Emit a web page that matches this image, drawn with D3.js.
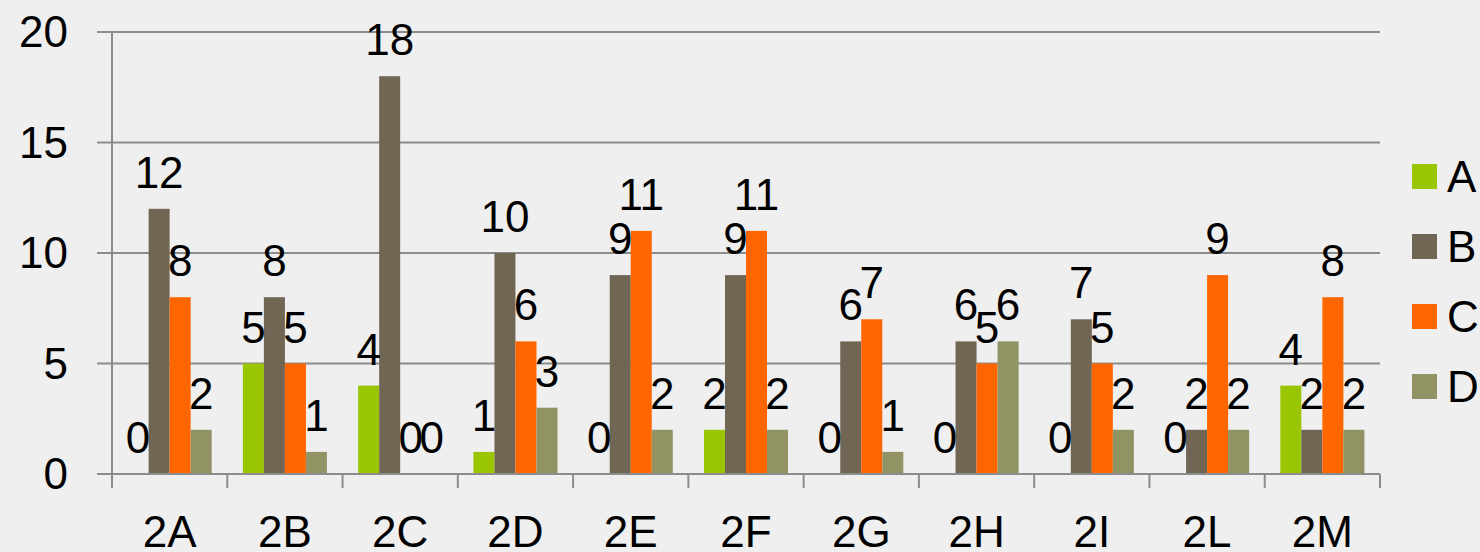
<!DOCTYPE html>
<html>
<head>
<meta charset="utf-8">
<script src="https://cdn.jsdelivr.net/npm/d3@7"></script>
<style>
  html, body { margin: 0; padding: 0; background: #efefef; }
  svg { display: block; }
  text { font-family: "Liberation Sans", Arial, sans-serif; fill: #000; }
</style>
</head>
<body>
<div id="vis"></div>
<script>
'use strict'

// data
const categories = ["2A", "2B", "2C", "2D", "2E", "2F", "2G", "2H", "2I", "2L", "2M"];
const seriesNames = ["A", "B", "C", "D"];
const seriesA = [0, 5, 4, 1, 0, 2, 0, 0, 0, 0, 4];
const seriesB = [12, 8, 18, 10, 9, 9, 6, 6, 7, 2, 2];
const seriesC = [8, 5, 0, 6, 11, 11, 7, 5, 5, 9, 8];
const seriesD = [2, 1, 0, 3, 2, 2, 1, 6, 2, 2, 2];
const yTicks = [0, 5, 10, 15, 20];
const colors = ["#99c600", "#716654", "#ff6600", "#919364"];

const values = [seriesA, seriesB, seriesC, seriesD];
const table = categories.map((c, i) => ({
  cat: c,
  vals: seriesNames.map((s, j) => ({ key: s, value: values[j][i] }))
}));

////////////////////////////////////////
////////////// SVG Setup ///////////////
////////////////////////////////////////

const width = 1480, height = 552;
const margin = { top: 32, right: 100, bottom: 78, left: 112 };

const svg = d3.select('#vis').append('svg')
  .attr('width', width)
  .attr('height', height);

const plotW = width - margin.left - margin.right;   // 1268
const plotH = height - margin.top - margin.bottom;  // 442

const g = svg.append('g')
  .attr('transform', `translate(${margin.left},${margin.top})`);

////////////////////////////////////////
////////////// Scales //////////////////
////////////////////////////////////////

const x0 = d3.scaleBand().domain(categories).range([0, plotW]).padding(0);
const x1 = d3.scaleBand().domain(seriesNames)
  .range([15.6, x0.bandwidth() - 15.6]).padding(0);
const y = d3.scaleLinear().domain([0, 20]).range([plotH, 0]);
const color = d3.scaleOrdinal().domain(seriesNames).range(colors);

////////////////////////////////////////
////////////// Grid & Axes /////////////
////////////////////////////////////////

g.selectAll('.grid')
  .data(yTicks.filter(d => d > 0))
  .join('line')
  .attr('x1', -15).attr('x2', plotW)
  .attr('y1', d => y(d)).attr('y2', d => y(d))
  .attr('stroke', '#8c8c8c').attr('stroke-width', 2);

g.selectAll('.ylab')
  .data(yTicks)
  .join('text')
  .attr('x', -44)
  .attr('y', d => y(d))
  .attr('dy', '0.35em')
  .attr('text-anchor', 'end')
  .style('font-size', '44px')
  .text(d => d);

// bars
const groups = g.selectAll('.grp')
  .data(table)
  .join('g')
  .attr('transform', d => `translate(${x0(d.cat)},0)`);

groups.selectAll('rect')
  .data(d => d.vals)
  .join('rect')
  .attr('x', d => x1(d.key))
  .attr('width', x1.bandwidth())
  .attr('y', d => y(d.value))
  .attr('height', d => plotH - y(d.value))
  .attr('fill', d => color(d.key));

groups.selectAll('text')
  .data(d => d.vals)
  .join('text')
  .attr('x', d => x1(d.key) + x1.bandwidth() / 2)
  .attr('y', d => y(d.value) - 21)
  .attr('text-anchor', 'middle')
  .style('font-size', '44px')
  .text(d => d.value);

// axes lines
g.append('line')
  .attr('x1', 0).attr('x2', 0)
  .attr('y1', 0).attr('y2', plotH)
  .attr('stroke', '#8c8c8c').attr('stroke-width', 2);

g.append('line')
  .attr('x1', -15).attr('x2', plotW)
  .attr('y1', plotH).attr('y2', plotH)
  .attr('stroke', '#8c8c8c').attr('stroke-width', 2);

g.selectAll('.xtick')
  .data(d3.range(categories.length + 1))
  .join('line')
  .attr('x1', i => i * x0.bandwidth()).attr('x2', i => i * x0.bandwidth())
  .attr('y1', plotH).attr('y2', plotH + 14)
  .attr('stroke', '#8c8c8c').attr('stroke-width', 2);

g.selectAll('.xlab')
  .data(categories)
  .join('text')
  .attr('x', d => x0(d) + x0.bandwidth() / 2)
  .attr('y', plotH + 73)
  .attr('text-anchor', 'middle')
  .style('font-size', '44px')
  .text(d => d);

////////////////////////////////////////
////////////// Legend //////////////////
////////////////////////////////////////

const legend = svg.append('g')
  .attr('transform', 'translate(1412,164)');

const items = legend.selectAll('g')
  .data(seriesNames)
  .join('g')
  .attr('transform', (d, i) => `translate(0,${i * 70})`);

items.append('rect')
  .attr('width', 25).attr('height', 25)
  .attr('fill', d => color(d));

items.append('text')
  .attr('x', 35)
  .attr('y', 12.5)
  .attr('dy', '0.35em')
  .style('font-size', '44px')
  .text(d => d);
</script>
</body>
</html>
